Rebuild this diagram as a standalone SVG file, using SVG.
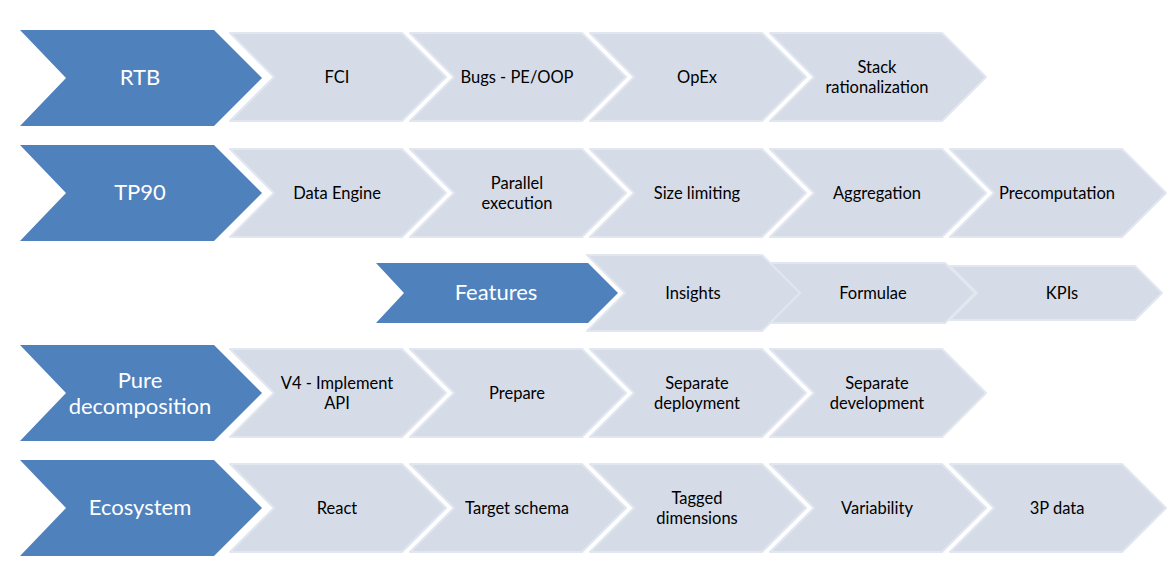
<svg xmlns="http://www.w3.org/2000/svg" width="1176" height="578" viewBox="0 0 1176 578">
<style>
.blue{fill:#4F81BD;}
.lt{fill:#D5DCE8;stroke:#E1E6EF;stroke-width:2;stroke-linejoin:round;}
.bt{font-family:Lato,"Open Sans",sans-serif;font-size:22px;fill:#FFFFFF;text-anchor:middle;}
.lx{font-family:Lato,"Open Sans",sans-serif;font-size:16.5px;fill:#000000;text-anchor:middle;}
</style>
<rect width="1176" height="578" fill="#FFFFFF"/>
<g id="connectors"></g>

<!-- Row 1 -->
<g id="fci"><polygon class="lt" points="230,33 402,33 446,77 402,121 230,121 274,77"/><text class="lx" x="337" y="83">FCI</text></g>
<g id="bugs"><polygon class="lt" points="410,33 582,33 626,77 582,121 410,121 454,77"/><text class="lx" x="517" y="83">Bugs - PE/OOP</text></g>
<g id="opex"><polygon class="lt" points="590,33 762,33 806,77 762,121 590,121 634,77"/><text class="lx" x="697" y="83">OpEx</text></g>
<g id="stack"><polygon class="lt" points="770,33 942,33 986,77 942,121 770,121 814,77"/><text class="lx" x="877" y="73">Stack</text><text class="lx" x="877" y="93">rationalization</text></g>
<g id="rtb"><polygon class="blue" points="20,30 214,30 262,78 214,126 20,126 66,78"/><text class="bt" x="140" y="85">RTB</text></g>

<!-- Row 2 -->
<g id="dataengine"><polygon class="lt" points="230,149 402,149 446,193 402,237 230,237 274,193"/><text class="lx" x="337" y="199">Data Engine</text></g>
<g id="parallel"><polygon class="lt" points="410,149 582,149 626,193 582,237 410,237 454,193"/><text class="lx" x="517" y="189">Parallel</text><text class="lx" x="517" y="209">execution</text></g>
<g id="sizelimiting"><polygon class="lt" points="590,149 762,149 806,193 762,237 590,237 634,193"/><text class="lx" x="697" y="199">Size limiting</text></g>
<g id="aggregation"><polygon class="lt" points="770,149 942,149 986,193 942,237 770,237 814,193"/><text class="lx" x="877" y="199">Aggregation</text></g>
<g id="precomputation"><polygon class="lt" points="950,149 1122,149 1166,193 1122,237 950,237 994,193"/><text class="lx" x="1057" y="199">Precomputation</text></g>
<g id="tp90"><polygon class="blue" points="20,145 214,145 262,193 214,241 20,241 66,193"/><text class="bt" x="140" y="200">TP90</text></g>

<!-- Row 3 -->
<g id="kpis"><polygon class="lt" points="950,266 1135,266 1162,293 1135,320 950,320 977,293"/><text class="lx" x="1062" y="299">KPIs</text></g>
<g id="formulae"><polygon class="lt" points="770,263 945,263 975,293 945,323 770,323 800,293"/><text class="lx" x="873" y="299">Formulae</text></g>
<g id="insights"><polygon class="lt" points="587,255 762,255 800,293 762,331 587,331 625,293"/><text class="lx" x="693" y="299">Insights</text></g>
<g id="features"><polygon class="blue" points="376,263 588,263 618,293 588,323 376,323 404,293"/><text class="bt" x="496" y="300">Features</text></g>

<!-- Row 4 -->
<g id="v4"><polygon class="lt" points="230,349 402,349 446,393 402,437 230,437 274,393"/><text class="lx" x="337" y="389">V4 - Implement</text><text class="lx" x="337" y="409">API</text></g>
<g id="prepare"><polygon class="lt" points="410,349 582,349 626,393 582,437 410,437 454,393"/><text class="lx" x="517" y="399">Prepare</text></g>
<g id="sepdeploy"><polygon class="lt" points="590,349 762,349 806,393 762,437 590,437 634,393"/><text class="lx" x="697" y="389">Separate</text><text class="lx" x="697" y="409">deployment</text></g>
<g id="sepdev"><polygon class="lt" points="770,349 942,349 986,393 942,437 770,437 814,393"/><text class="lx" x="877" y="389">Separate</text><text class="lx" x="877" y="409">development</text></g>
<g id="pure"><polygon class="blue" points="20,345 214,345 262,393 214,441 20,441 66,393"/><text class="bt" x="140" y="388">Pure</text><text class="bt" x="140" y="414">decomposition</text></g>

<!-- Row 5 -->
<g id="react"><polygon class="lt" points="230,464 402,464 446,508 402,552 230,552 274,508"/><text class="lx" x="337" y="514">React</text></g>
<g id="targetschema"><polygon class="lt" points="410,464 582,464 626,508 582,552 410,552 454,508"/><text class="lx" x="517" y="514">Target schema</text></g>
<g id="tagged"><polygon class="lt" points="590,464 762,464 806,508 762,552 590,552 634,508"/><text class="lx" x="697" y="504">Tagged</text><text class="lx" x="697" y="524">dimensions</text></g>
<g id="variability"><polygon class="lt" points="770,464 942,464 986,508 942,552 770,552 814,508"/><text class="lx" x="877" y="514">Variability</text></g>
<g id="3pdata"><polygon class="lt" points="950,464 1122,464 1166,508 1122,552 950,552 994,508"/><text class="lx" x="1057" y="514">3P data</text></g>
<g id="ecosystem"><polygon class="blue" points="20,460 214,460 262,508 214,556 20,556 66,508"/><text class="bt" x="140" y="515">Ecosystem</text></g>
</svg>
